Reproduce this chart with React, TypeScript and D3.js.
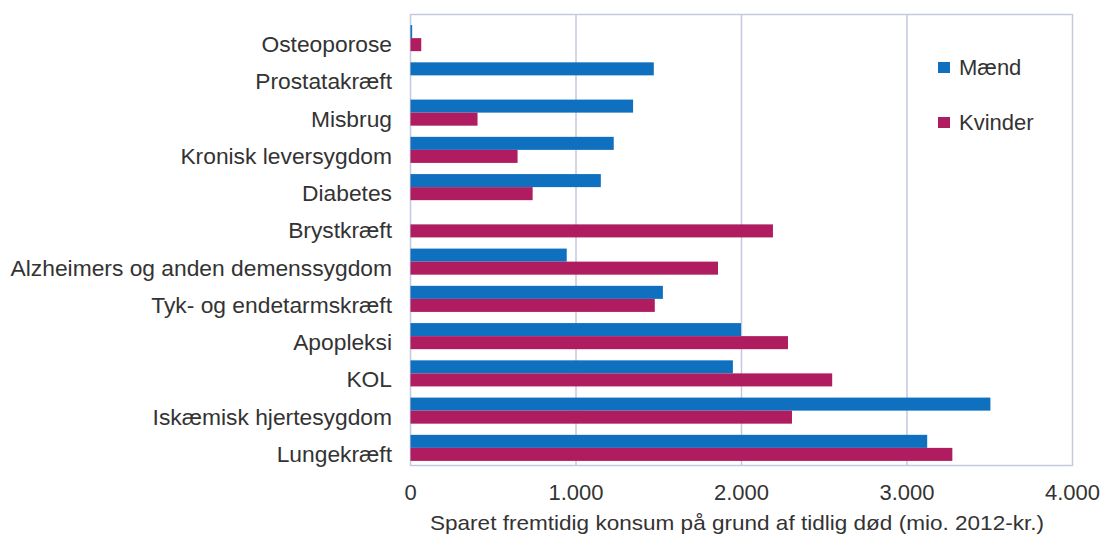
import React from "react";
import * as d3 from "d3";

const categories = [
  "Osteoporose",
  "Prostatakræft",
  "Misbrug",
  "Kronisk leversygdom",
  "Diabetes",
  "Brystkræft",
  "Alzheimers og anden demenssygdom",
  "Tyk- og endetarmskræft",
  "Apopleksi",
  "KOL",
  "Iskæmisk hjertesygdom",
  "Lungekræft",
];
const maend = [10, 1470, 1345, 1228, 1150, 0, 944, 1525, 1997, 1948, 3504, 3122];
const kvinder = [65, 0, 405, 647, 738, 2190, 1858, 1476, 2281, 2548, 2305, 3274];
const seriesNames = ["Mænd", "Kvinder"];
const seriesColors = ["#1070c0", "#b01c60"];
const xTicks = [0, 1000, 2000, 3000, 4000];
const xTitle = "Sparet fremtidig konsum på grund af tidlig død (mio. 2012-kr.)";

const W = 1102;
const H = 536;
const left = 410.5;
const right = 1072.5;
const top = 14.5;
const bottom = 465.5;
const font = "Arial, 'Liberation Sans', sans-serif";
const textColor = "#333333";
const gridColor = "#c3cadd";

const fmt = (v: number) => (v === 0 ? "0" : d3.format(",")(v).replace(/,/g, "."));

export default function App() {
  const x = d3.scaleLinear().domain([0, 4000]).range([left, right]);
  const y = d3
    .scaleBand<string>()
    .domain(categories)
    .range([19.5, 466.5])
    .paddingInner(0.3)
    .paddingOuter(0.15);
  const inner = d3.scaleBand<string>().domain(seriesNames).range([0, y.bandwidth()]);
  const values = [maend, kvinder];

  return (
    <svg width={W} height={H} style={{ position: "absolute", left: 0, top: 0, background: "#fff" }}>
      <rect x={0} y={0} width={W} height={H} fill="#fff" />
      {/* frame */}
      <rect x={left} y={top} width={right - left} height={bottom - top} fill="none" stroke={gridColor} strokeWidth={1.5} />
      {xTicks.slice(1, -1).map((t) => (
        <line key={t} x1={x(t)} x2={x(t)} y1={top} y2={bottom} stroke={gridColor} strokeWidth={1.5} />
      ))}
      {/* bars */}
      {categories.map((c, i) => (
        <g key={c}>
          {values.map((vals, s) =>
            vals[i] > 0 ? (
              <rect
                key={s}
                x={x(0)}
                y={(y(c) as number) + (inner(seriesNames[s]) as number)}
                width={x(vals[i]) - x(0)}
                height={inner.bandwidth()}
                fill={seriesColors[s]}
              />
            ) : null
          )}
          <text
            x={392}
            y={(y(c) as number) + y.bandwidth() / 2 + 14}
            textAnchor="end"
            fontFamily={font}
            fontSize={22.8}
            fill={textColor}
          >
            {c}
          </text>
        </g>
      ))}
      {/* legend */}
      {seriesNames.map((s, i) => (
        <g key={s}>
          <rect x={938} y={62 + i * 55} width={12} height={11} fill={seriesColors[i]} />
          <text x={959} y={75 + i * 55} fontFamily={font} fontSize={22} fill={textColor}>
            {s}
          </text>
        </g>
      ))}
      {/* x tick labels */}
      {xTicks.map((t) => (
        <text key={t} x={x(t)} y={500} textAnchor="middle" fontFamily={font} fontSize={22} fill={textColor}>
          {fmt(t)}
        </text>
      ))}
      <text
        x={737}
        y={530}
        textAnchor="middle"
        fontFamily={font}
        fontSize={21}
        fill={textColor}
        textLength={614}
        lengthAdjust="spacingAndGlyphs"
      >
        {xTitle}
      </text>
    </svg>
  );
}
